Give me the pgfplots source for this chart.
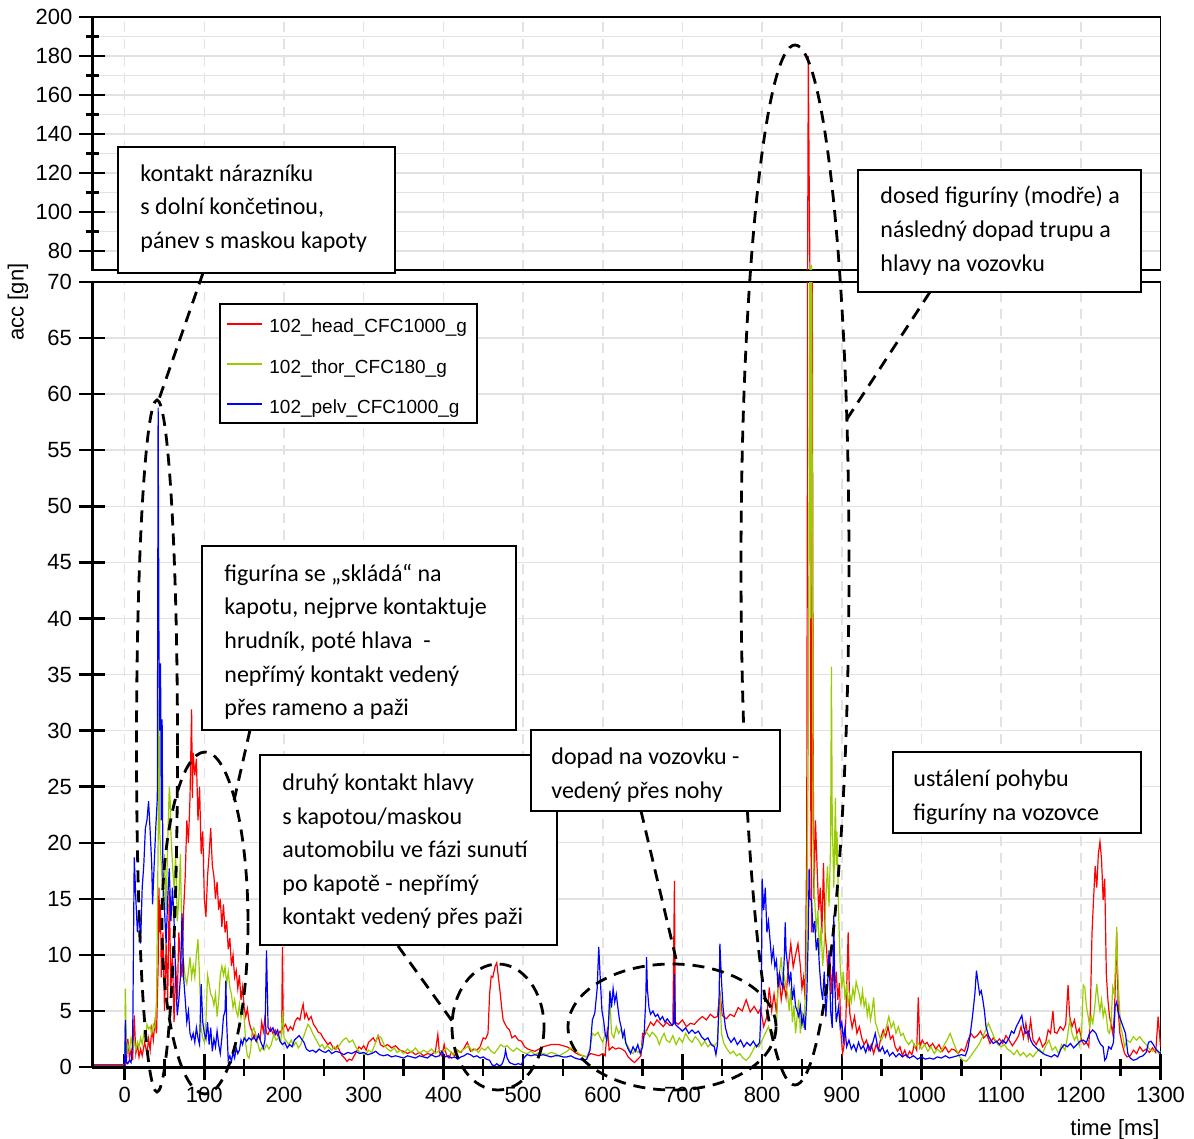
\documentclass[border=0pt]{standalone}
\usepackage{fontspec}
\setmainfont{Liberation Sans}
\newfontfamily\calibri{Carlito}
\usepackage{pgfplots}
\usepackage{pgfplotstable}
\pgfplotsset{compat=1.18}
\definecolor{cHead}{RGB}{255,0,0}
\definecolor{cThor}{RGB}{153,204,0}
\definecolor{cPelv}{RGB}{0,0,255}
\definecolor{grd}{RGB}{226,226,226}

% 102_head_CFC1000_g
\pgfplotstableread[row sep=\\]{
t y\\
-41 0.2\\ 0 0.2\\ 2 0.3\\ 4 2.5\\ 6 0.8\\ 8 1.5\\ 10 0.6\\ 12 4.6\\ 14 1.2\\ 16 2.0\\ 18 0.9\\ 20 1.6\\ 22 1.0\\ 25 2.2\\ 28 1.2\\ 30 2.5\\ 32 1.5\\ 34 3.4\\ 36 2.4\\ 38 4.0\\ 40 3.0\\
42 9\\ 43 16\\ 44 12\\ 45 14.5\\ 46 8\\ 48 12\\ 50 5\\ 52 11\\ 54 6\\ 56 15.7\\ 58 7\\ 60 10\\ 62 4\\ 64 9\\ 66 6\\ 68 12\\ 70 9.4\\ 72 8\\ 74 14\\ 76 17\\ 78 22\\ 80 20\\ 82 24\\ 84 31.9\\ 85 24\\ 86 28\\ 88 26\\ 90 27.5\\ 92 22\\ 94 25\\ 96 19\\ 98 21\\ 100 15\\ 102 13.4\\ 104 17\\ 106 19\\ 108 21.3\\ 110 18\\ 112 17\\ 114 15\\ 116 16.5\\ 118 14\\ 120 15\\ 122 12.5\\ 124 14.5\\ 126 12\\ 128 13\\ 130 10.5\\ 132 11.5\\ 134 9\\ 136 10\\ 138 8\\ 140 8.6\\ 142 7\\ 144 8.2\\ 146 6\\ 148 7.1\\ 150 5.3\\
152 4.5\\ 154 5.2\\ 156 4.1\\ 158 3.5\\ 160 3.2\\ 162 2.6\\ 164 3.0\\ 166 2.3\\ 168 2.8\\ 170 2.5\\ 172 4.0\\ 174 3.2\\ 176 4.4\\ 178 3.0\\ 180 2.9\\ 183 3.5\\ 186 3.0\\ 189 3.3\\ 192 2.8\\ 195 3.2\\ 197 2.9\\ 198 10.7\\ 199 3.5\\ 202 3.8\\ 205 3.2\\ 208 3.6\\ 211 3.3\\ 214 4.1\\ 217 4.4\\ 220 4.2\\ 222 5.0\\ 224 5.6\\ 226 4.4\\ 228 4.8\\ 231 4.2\\ 234 4.5\\ 237 3.8\\ 240 3.5\\ 243 3.1\\ 246 3.0\\ 249 2.6\\ 252 2.3\\ 255 2.0\\ 258 2.2\\ 261 1.8\\ 264 1.6\\ 267 1.9\\ 270 1.4\\ 273 1.0\\ 276 0.8\\ 279 0.5\\ 282 0.7\\ 285 0.6\\ 288 1.0\\ 291 1.4\\ 294 1.8\\ 297 1.6\\ 300 1.9\\
303 1.5\\ 306 2.2\\ 309 2.4\\ 312 2.6\\ 315 2.2\\ 318 2.8\\ 321 2.0\\ 325 1.8\\ 330 2.0\\ 335 1.7\\ 340 1.9\\ 345 1.5\\ 350 1.4\\ 355 1.2\\ 360 1.4\\ 365 1.1\\ 370 1.3\\ 375 1.0\\ 380 1.2\\ 385 1.1\\ 390 1.4\\ 393 2.9\\ 395 1.3\\ 398 1.0\\ 401 2.0\\ 404 1.0\\ 407 0.8\\ 410 1.3\\ 414 1.0\\ 418 1.5\\ 422 1.3\\ 426 1.7\\ 430 2.2\\ 434 1.4\\ 438 1.6\\ 442 1.5\\ 446 1.8\\ 450 2.6\\ 453 2.5\\ 456 3.0\\ 458 6.5\\ 460 8.1\\ 462 8.0\\ 465 9.0\\ 467 9.3\\ 469 8.0\\ 471 6.8\\ 473 5.4\\ 475 4.2\\ 477 3.9\\ 480 3.5\\ 483 3.3\\ 486 2.6\\ 490 2.8\\ 494 2.4\\ 498 2.3\\
502 1.8\\ 506 1.6\\ 510 1.5\\ 515 1.4\\ 520 1.6\\ 525 1.8\\ 530 1.9\\ 535 2.0\\ 540 2.0\\ 545 2.0\\ 550 1.9\\ 555 1.8\\ 560 1.6\\ 565 1.3\\ 570 1.1\\ 575 1.0\\ 580 0.9\\ 585 1.2\\ 590 1.1\\ 595 1.0\\ 600 1.2\\ 603 1.0\\ 606 3.6\\ 608 1.5\\ 612 1.8\\ 616 1.6\\ 620 1.7\\ 624 1.6\\ 628 1.4\\ 632 0.9\\ 636 0.6\\ 640 0.4\\ 644 0.7\\ 648 1.0\\ 650 3.0\\ 653 2.9\\ 656 3.4\\ 660 4.0\\ 664 3.7\\ 668 4.2\\ 672 3.9\\ 676 3.6\\ 680 4.0\\ 684 3.7\\ 688 3.8\\ 690 16.6\\ 691 4.0\\ 695 3.8\\ 700 4.2\\ 705 3.6\\ 710 3.9\\ 715 3.8\\ 720 4.2\\ 725 4.5\\ 730 4.2\\ 735 4.7\\ 740 4.4\\ 744 4.5\\ 747 6.8\\ 750 4.6\\ 755 4.3\\ 760 4.7\\ 765 4.5\\ 770 5.3\\ 775 5.0\\ 780 6.0\\ 785 4.9\\ 790 5.4\\ 795 4.8\\ 798 5.2\\
802 3.6\\ 806 4.5\\ 809 7.1\\ 812 5.0\\ 815 6.5\\ 818 4.8\\ 821 8.3\\ 824 6.0\\ 827 7.5\\ 830 6.2\\ 833 9.0\\ 836 11.0\\ 839 8.9\\ 842 10.0\\ 845 11.0\\ 848 9.0\\ 850 7.0\\ 852 8.0\\ 854 6.0\\ 856 20\\ 857 60\\ 858 180\\ 859 120\\ 860 70\\ 861 25\\ 862 12\\ 863 70\\ 864 30\\ 865 15\\ 867 22\\ 869 17.8\\ 871 14\\ 873 16\\ 875 11.9\\ 877 18.2\\ 879 12\\ 881 10.4\\ 883 8\\ 885 10\\ 887 6.5\\ 889 9\\ 891 7\\ 893 8.5\\ 895 6\\ 897 7.5\\ 899 3\\ 901 1.2\\ 903 2.0\\ 905 4.0\\ 908 12\\ 910 4.8\\ 913 3.5\\ 916 4.5\\ 919 3.0\\ 922 3.6\\ 925 2.6\\ 928 2.0\\ 931 2.4\\ 934 1.5\\ 937 2.0\\ 940 1.2\\ 943 2.0\\ 946 1.5\\ 949 2.6\\ 952 3.3\\ 955 2.7\\ 958 3.6\\ 961 2.5\\ 964 2.8\\ 967 1.8\\ 970 1.4\\ 973 1.8\\ 976 1.0\\ 979 1.5\\ 982 0.9\\ 985 1.4\\ 988 1.1\\ 991 2.0\\ 994 1.5\\ 996 6.2\\ 998 1.8\\
1001 2.4\\ 1004 2.0\\ 1007 2.2\\ 1010 1.8\\ 1014 2.1\\ 1018 1.6\\ 1022 2.0\\ 1026 1.4\\ 1030 1.8\\ 1034 1.3\\ 1038 1.6\\ 1042 1.5\\ 1046 1.2\\ 1050 1.6\\ 1054 1.4\\ 1058 2.3\\ 1062 3.0\\ 1066 2.6\\ 1070 2.8\\ 1074 3.2\\ 1078 2.6\\ 1082 2.9\\ 1086 2.1\\ 1090 2.6\\ 1094 2.2\\ 1098 2.5\\ 1102 2.1\\ 1106 2.8\\ 1110 2.4\\ 1114 1.9\\ 1118 2.3\\ 1122 2.8\\ 1125 3.6\\ 1128 2.6\\ 1131 3.9\\ 1134 2.5\\ 1137 4.2\\ 1140 2.4\\ 1144 2.0\\ 1148 2.6\\ 1152 1.8\\ 1156 2.2\\ 1159 3.3\\ 1162 3.0\\ 1165 5.0\\ 1167 3.1\\ 1170 3.0\\ 1174 3.6\\ 1178 3.3\\ 1181 3.8\\ 1184 7.3\\ 1186 4.5\\ 1189 3.6\\ 1192 4.2\\ 1195 3.0\\ 1198 3.4\\
1201 2.4\\ 1204 2.0\\ 1207 2.2\\ 1210 1.8\\ 1212 5.0\\ 1214 11.9\\ 1216 15.0\\ 1218 17.9\\ 1220 16.0\\ 1222 19.0\\ 1224 20.1\\ 1226 18.5\\ 1228 14.9\\ 1230 16.8\\ 1232 8.3\\ 1234 6.0\\ 1236 4.5\\ 1238 3.8\\ 1240 3.0\\ 1242 4.5\\ 1244 9.0\\ 1245 12.0\\ 1247 5.0\\ 1249 3.0\\ 1252 2.0\\ 1255 1.2\\ 1258 0.9\\ 1262 1.0\\ 1266 1.5\\ 1270 1.2\\ 1274 1.8\\ 1278 1.4\\ 1282 1.6\\ 1286 1.3\\ 1290 1.7\\ 1294 1.3\\ 1297 4.5\\ 1300 1.8\\
}\headtab

% 102_thor_CFC180_g
\pgfplotstableread[row sep=\\]{
t y\\
-41 0.1\\ 0 0.1\\ 1 7.0\\ 2 1.0\\ 4 2.0\\ 6 1.5\\ 8 2.6\\ 10 1.8\\ 12 2.4\\ 14 1.5\\ 16 2.2\\ 18 1.8\\ 20 2.6\\ 22 2.0\\ 24 3.0\\ 26 2.4\\ 28 3.8\\ 30 3.4\\ 32 3.6\\ 34 3.0\\ 36 3.8\\ 38 3.5\\ 40 6\\ 42 20\\ 43 32.7\\ 44 21\\ 46 18\\ 48 15\\ 50 19\\ 52 14\\ 54 20\\ 56 25\\ 57 24\\ 58 21\\ 60 18\\ 62 16\\ 64 19\\ 66 13\\ 68 15\\ 70 19\\ 72 10\\ 74 9.4\\ 76 8\\ 78 7.4\\ 80 8.5\\ 82 9.8\\ 84 8\\ 86 9\\ 88 8\\ 90 10\\ 92 11.4\\ 94 8\\ 96 3.4\\ 98 2.6\\ 100 2.2\\
102 4\\ 104 8.2\\ 106 7.4\\ 108 6.5\\ 110 6.2\\ 112 5.5\\ 114 6.5\\ 116 4.5\\ 118 6\\ 120 8.2\\ 122 9.0\\ 124 8.2\\ 126 8.9\\ 128 7.4\\ 130 8.5\\ 132 7.1\\ 134 6.5\\ 136 5.3\\ 138 6.0\\ 140 5.0\\ 142 4.5\\ 144 5.6\\ 146 4.4\\ 148 5.2\\ 150 4.4\\ 152 2.0\\ 154 1.0\\ 156 0.8\\ 158 1.5\\ 160 3.2\\ 162 3.5\\ 164 3.0\\ 166 2.5\\ 168 1.8\\ 170 1.4\\ 172 1.7\\ 175 1.5\\ 178 2.0\\ 181 1.6\\ 184 2.0\\ 187 2.9\\ 190 2.4\\ 193 2.6\\ 196 2.2\\ 198 5.0\\ 200 2.6\\
203 2.3\\ 206 2.0\\ 209 2.4\\ 212 1.9\\ 215 2.2\\ 218 1.7\\ 221 2.0\\ 224 2.6\\ 227 3.2\\ 230 3.8\\ 233 3.5\\ 236 3.0\\ 239 2.6\\ 242 2.2\\ 245 1.8\\ 248 2.0\\ 251 1.6\\ 254 1.9\\ 257 1.7\\ 260 1.5\\ 263 1.8\\ 266 1.6\\ 270 2.0\\ 274 2.4\\ 278 2.6\\ 282 2.2\\ 286 2.4\\ 290 1.8\\ 294 1.4\\ 298 1.2\\ 302 1.1\\ 306 1.5\\ 310 1.3\\ 314 2.0\\ 318 2.8\\ 322 2.6\\ 326 1.9\\ 330 1.6\\ 334 1.4\\ 338 1.7\\ 342 1.3\\ 346 1.5\\ 350 1.2\\ 355 1.6\\ 360 1.3\\ 365 1.7\\ 370 1.2\\ 375 1.5\\ 380 1.3\\ 385 1.6\\ 390 1.2\\ 395 1.5\\ 400 1.3\\
404 1.7\\ 408 1.4\\ 412 1.1\\ 416 1.6\\ 420 1.3\\ 424 1.5\\ 428 1.7\\ 432 1.9\\ 436 1.4\\ 440 1.6\\ 444 1.3\\ 448 1.7\\ 452 1.5\\ 456 1.8\\ 460 1.4\\ 464 1.2\\ 468 1.6\\ 472 2.0\\ 476 1.8\\ 480 1.9\\ 484 1.6\\ 488 1.4\\ 492 1.7\\ 496 1.5\\ 500 1.3\\ 505 1.2\\ 510 1.4\\ 515 1.1\\ 520 1.3\\ 525 1.2\\ 530 1.1\\ 535 1.3\\ 540 1.2\\ 545 1.0\\ 550 1.2\\ 555 1.4\\ 560 1.7\\ 565 1.5\\ 570 1.2\\ 575 1.0\\ 580 0.9\\ 584 1.6\\ 587 3.0\\ 590 2.8\\ 594 3.1\\ 597 2.6\\ 600 2.2\\
603 3.0\\ 606 2.5\\ 609 6.2\\ 611 3.0\\ 614 2.6\\ 617 3.6\\ 620 3.0\\ 623 3.4\\ 626 2.7\\ 629 2.2\\ 632 1.8\\ 635 1.4\\ 638 1.2\\ 641 1.6\\ 644 1.3\\ 647 1.5\\ 650 2.0\\ 653 3.3\\ 656 3.0\\ 659 2.7\\ 662 3.1\\ 665 2.9\\ 668 2.6\\ 671 2.0\\ 674 2.6\\ 677 3.0\\ 680 2.4\\ 684 2.2\\ 688 2.8\\ 692 2.0\\ 696 2.6\\ 700 2.2\\ 704 3.0\\ 708 2.5\\ 712 2.2\\ 716 2.7\\ 720 2.4\\ 724 1.9\\ 728 2.3\\ 732 1.8\\ 736 2.1\\ 740 1.9\\ 744 2.2\\ 746 5.0\\ 747 6.8\\ 749 3.0\\ 752 2.1\\ 756 1.6\\ 760 1.2\\ 764 1.4\\ 768 1.0\\ 772 1.2\\ 776 0.8\\ 780 0.6\\ 784 0.9\\ 788 1.4\\ 792 2.0\\ 796 1.8\\ 800 2.4\\
804 3.0\\ 808 3.6\\ 812 2.7\\ 816 3.2\\ 818 3.6\\ 820 7.1\\ 822 8.5\\ 824 9.8\\ 826 7.5\\ 828 8.0\\ 830 7.1\\ 832 6.5\\ 834 5.0\\ 836 7.0\\ 838 4.0\\ 840 5.5\\ 842 3.0\\ 844 4.5\\ 846 6.0\\ 848 3.0\\ 850 5.0\\ 852 3.5\\ 854 6.0\\ 856 10\\ 858 30\\ 860 72\\ 861 40\\ 862 73\\ 863 50\\ 864 20\\ 866 15\\ 868 12\\ 870 14\\ 872 10\\ 874 12.5\\ 876 9\\ 878 11\\ 880 15\\ 882 17.9\\ 884 14.3\\ 886 20\\ 887 35.7\\ 888 22\\ 890 16\\ 892 24\\ 893 18\\ 894 21\\ 896 13.8\\ 898 9\\ 900 7\\
902 8.5\\ 904 6\\ 906 7.4\\ 908 5.4\\ 910 6.5\\ 912 5.8\\ 914 7.0\\ 916 6.2\\ 918 7.6\\ 920 7.0\\ 922 6.5\\ 924 5.6\\ 926 6.8\\ 928 5.4\\ 930 6.0\\ 932 4.6\\ 934 5.5\\ 936 4.2\\ 938 5.0\\ 940 6.2\\ 942 4.0\\ 944 3.6\\ 946 3.0\\ 948 2.6\\ 950 2.4\\ 953 3.0\\ 956 3.6\\ 959 4.5\\ 962 3.5\\ 965 4.0\\ 968 3.0\\ 971 3.6\\ 974 2.8\\ 977 3.0\\ 980 2.4\\ 984 2.0\\ 988 2.4\\ 992 1.8\\ 996 2.1\\ 1000 1.6\\
1004 2.0\\ 1008 1.4\\ 1012 1.8\\ 1016 1.2\\ 1020 1.6\\ 1024 1.3\\ 1028 1.9\\ 1032 2.4\\ 1036 3.0\\ 1040 2.2\\ 1044 1.5\\ 1048 0.9\\ 1052 0.6\\ 1056 0.5\\ 1060 0.8\\ 1064 1.2\\ 1068 1.6\\ 1072 2.0\\ 1076 2.6\\ 1080 3.2\\ 1084 3.9\\ 1088 3.2\\ 1092 2.5\\ 1096 2.0\\ 1100 1.8\\ 1104 2.0\\ 1108 1.6\\ 1112 1.4\\ 1116 1.1\\ 1120 1.5\\ 1124 1.0\\ 1128 1.3\\ 1132 0.9\\ 1136 1.2\\ 1140 0.9\\ 1144 1.3\\ 1148 1.6\\ 1152 1.2\\ 1156 1.9\\ 1160 2.4\\ 1164 1.5\\ 1168 1.8\\ 1172 1.2\\ 1176 2.0\\ 1180 1.5\\ 1183 2.6\\ 1186 4.2\\ 1189 3.0\\ 1192 2.4\\ 1195 2.8\\ 1198 1.9\\
1201 3.0\\ 1203 7.3\\ 1205 7.1\\ 1207 5.4\\ 1209 4.6\\ 1211 3.6\\ 1213 4.5\\ 1215 3.9\\ 1217 5.0\\ 1220 7.4\\ 1222 6.0\\ 1224 5.0\\ 1226 6.0\\ 1228 4.5\\ 1230 5.2\\ 1232 4.5\\ 1234 3.2\\ 1236 3.0\\ 1238 4.0\\ 1240 7.1\\ 1242 6.5\\ 1244 10\\ 1245 12.5\\ 1246 9\\ 1248 6.0\\ 1250 3.5\\ 1252 3.0\\ 1255 1.8\\ 1258 2.4\\ 1262 2.2\\ 1266 2.7\\ 1270 2.4\\ 1274 2.7\\ 1278 2.3\\ 1282 2.0\\ 1286 1.6\\ 1290 1.4\\ 1294 1.6\\ 1298 1.2\\ 1300 1.4\\
}\thortab

% 102_pelv_CFC1000_g
\pgfplotstableread[row sep=\\]{
t y\\
-41 0.1\\ 0 0.1\\ 1 4.2\\ 2 0.5\\ 4 0.3\\ 6 0.6\\ 8 0.4\\ 10 2\\ 12 18.7\\ 14 15\\ 16 12\\ 18 14\\ 20 11\\ 22 16\\ 24 18\\ 26 21.3\\ 28 22\\ 30 23.7\\ 32 21\\ 34 18\\ 35 14.5\\ 37 18\\ 39 21.3\\ 41 24\\ 42 58.8\\ 43 38\\ 44 30\\ 45 36\\ 46 22\\ 47 31\\ 48 17\\ 50 14\\ 52 11\\ 54 15\\ 56 17.7\\ 58 13\\ 60 16\\ 62 13\\ 64 8\\ 66 4.6\\ 68 6\\ 70 8\\ 72 13.7\\ 74 8\\ 76 6\\ 78 4\\ 80 5\\ 82 3\\ 84 2.5\\ 86 3.0\\ 88 2.2\\ 90 3.5\\ 92 2.6\\ 94 2.0\\ 96 7.4\\ 98 4\\ 100 3.0\\
102 2.5\\ 104 4.0\\ 106 2.0\\ 108 3.5\\ 110 1.4\\ 112 2.5\\ 114 1.8\\ 116 3.2\\ 118 2.0\\ 120 1.2\\ 122 2.6\\ 124 4.5\\ 126 5.0\\ 127 7.7\\ 128 4.0\\ 130 0.6\\ 132 1.0\\ 134 0.5\\ 136 1.3\\ 138 0.8\\ 140 1.7\\ 142 1.2\\ 144 1.5\\ 146 2.4\\ 148 2.0\\ 150 2.6\\ 153 2.3\\ 156 2.6\\ 159 2.4\\ 162 2.7\\ 165 2.3\\ 168 2.9\\ 171 2.2\\ 174 1.7\\ 176 2.4\\ 178 10.4\\ 180 3.5\\ 183 3.2\\ 186 3.5\\ 189 2.9\\ 192 3.3\\ 195 2.3\\ 198 2.0\\
201 2.2\\ 204 1.7\\ 207 2.0\\ 210 1.8\\ 213 2.4\\ 216 2.6\\ 219 2.8\\ 222 2.5\\ 225 2.2\\ 228 1.6\\ 232 1.4\\ 236 1.5\\ 240 1.3\\ 244 1.6\\ 248 1.4\\ 252 1.3\\ 256 1.5\\ 260 1.2\\ 265 1.4\\ 270 1.3\\ 275 1.1\\ 280 1.3\\ 285 1.2\\ 290 1.4\\ 295 1.2\\ 300 1.3\\ 305 1.1\\ 310 1.2\\ 315 1.4\\ 320 1.1\\ 325 1.0\\ 330 1.1\\ 335 0.9\\ 340 1.0\\ 345 0.9\\ 350 0.8\\ 355 1.0\\ 360 0.9\\ 365 0.8\\ 370 1.0\\ 375 0.9\\ 380 0.8\\ 385 1.1\\ 390 0.9\\ 395 1.0\\ 398 1.4\\
402 0.9\\ 406 1.0\\ 410 0.8\\ 414 0.9\\ 418 0.7\\ 422 0.9\\ 426 1.0\\ 430 1.2\\ 434 1.1\\ 438 0.9\\ 442 1.0\\ 446 0.8\\ 450 0.9\\ 454 0.7\\ 458 0.6\\ 461 0.2\\ 464 0.1\\ 467 0.3\\ 470 0.1\\ 473 0.2\\ 475 0.5\\ 477 1.0\\ 478 1.5\\ 480 0.8\\ 483 0.4\\ 486 0.3\\ 490 0.2\\ 494 0.3\\ 498 0.2\\ 501 0.8\\ 505 1.1\\ 510 1.0\\ 515 1.1\\ 520 1.0\\ 525 1.1\\ 530 1.0\\ 535 0.9\\ 540 1.0\\ 545 1.0\\ 550 0.9\\ 555 0.9\\ 560 1.0\\ 565 0.8\\ 570 0.7\\ 575 0.6\\ 580 0.7\\
584 1.5\\ 587 4.2\\ 590 4.8\\ 593 7.0\\ 595 10.7\\ 597 7.7\\ 599 5.0\\ 601 4.2\\ 603 3.0\\ 605 2.4\\ 607 3.5\\ 609 6.8\\ 611 5.3\\ 613 7.0\\ 615 5.8\\ 617 6.5\\ 619 5.3\\ 621 4.2\\ 623 3.6\\ 625 2.7\\ 627 3.2\\ 629 2.1\\ 632 1.6\\ 635 1.2\\ 638 1.8\\ 641 1.4\\ 644 2.0\\ 647 1.2\\ 650 1.8\\ 652 3.0\\ 654 6.0\\ 655 9.8\\ 656 7.0\\ 658 5.3\\ 660 4.7\\ 663 5.0\\ 666 4.5\\ 669 4.7\\ 672 4.2\\ 675 4.5\\ 678 4.0\\ 681 4.3\\ 684 4.0\\ 687 3.7\\ 689 3.9\\ 690 8.3\\ 691 3.8\\ 694 3.6\\ 697 3.4\\ 700 3.2\\
704 3.5\\ 708 3.0\\ 712 3.3\\ 716 3.0\\ 720 3.2\\ 724 2.7\\ 728 2.4\\ 732 2.6\\ 736 2.0\\ 740 1.8\\ 742 1.1\\ 744 2.0\\ 746 6.0\\ 747 11.0\\ 749 7.7\\ 751 5.3\\ 754 3.5\\ 757 2.7\\ 761 2.2\\ 765 2.6\\ 769 2.0\\ 773 2.4\\ 777 1.8\\ 781 2.2\\ 785 1.9\\ 789 2.3\\ 793 1.8\\ 797 2.2\\ 799 6\\ 800 16.8\\ 802 14\\ 804 16\\ 806 12\\ 808 13\\ 810 11.3\\ 812 9.5\\ 814 10.5\\ 816 8.9\\ 818 9.5\\ 820 7.1\\ 822 8.3\\ 824 7.5\\ 826 7.1\\ 828 10\\ 829 12.9\\ 830 10.4\\ 832 9\\ 834 7.5\\ 836 8.5\\ 838 6.0\\ 840 7.0\\ 842 5.4\\ 844 5.0\\ 846 4.5\\ 848 5.4\\ 850 3.8\\ 852 4.5\\ 854 3.3\\ 856 6\\ 858 12\\ 859 17.7\\ 860 15\\ 862 14.9\\ 864 12\\ 866 13\\ 868 10.4\\ 870 11.5\\ 872 8.9\\ 874 7\\ 876 6\\ 878 8.5\\ 880 4.5\\ 882 7\\ 884 10.4\\ 886 5\\ 888 3.5\\ 890 13.5\\ 891 8\\ 893 4\\ 896 5.4\\ 898 3.5\\ 900 4\\
902 2.4\\ 904 3.5\\ 906 1.8\\ 909 2.4\\ 912 1.6\\ 915 2.0\\ 918 1.4\\ 921 2.2\\ 924 1.6\\ 927 1.9\\ 930 1.3\\ 933 2.0\\ 936 1.5\\ 939 2.2\\ 942 3.0\\ 945 1.8\\ 948 1.4\\ 951 1.8\\ 954 1.2\\ 957 1.5\\ 960 1.0\\ 964 1.3\\ 968 0.9\\ 972 1.2\\ 976 0.9\\ 980 1.1\\ 985 0.8\\ 990 1.0\\ 995 0.7\\ 1000 0.9\\ 1005 0.7\\ 1010 0.8\\ 1015 0.7\\ 1020 0.9\\ 1025 0.8\\ 1030 1.0\\ 1035 0.8\\ 1040 0.9\\ 1045 1.0\\ 1050 1.1\\ 1055 1.0\\ 1058 1.6\\ 1061 2.8\\ 1064 4.5\\ 1067 6.5\\ 1069 8.6\\ 1071 7.5\\ 1073 6.5\\ 1075 6.8\\ 1077 6.0\\ 1079 5.0\\ 1081 3.6\\ 1084 2.8\\ 1087 2.4\\ 1090 2.1\\ 1094 2.3\\ 1098 2.0\\
1102 2.4\\ 1106 2.1\\ 1110 2.6\\ 1113 3.2\\ 1116 3.0\\ 1119 3.6\\ 1122 4.0\\ 1126 4.6\\ 1128 3.6\\ 1131 3.0\\ 1134 3.2\\ 1137 2.4\\ 1140 2.0\\ 1143 1.8\\ 1147 1.5\\ 1151 1.3\\ 1155 1.1\\ 1159 1.0\\ 1163 0.9\\ 1167 1.1\\ 1171 0.9\\ 1175 1.6\\ 1179 2.0\\ 1183 1.8\\ 1187 2.1\\ 1191 1.7\\ 1195 2.0\\ 1199 2.3\\ 1203 2.4\\ 1207 2.2\\ 1211 3.0\\ 1215 3.3\\ 1219 3.0\\ 1222 2.4\\ 1225 2.0\\ 1228 1.8\\ 1230 0.6\\ 1232 0.8\\ 1235 1.8\\ 1238 1.6\\ 1241 2.2\\ 1243 5.4\\ 1245 5.8\\ 1247 4.8\\ 1250 4.2\\ 1253 3.6\\ 1256 3.0\\ 1259 1.2\\ 1262 0.8\\ 1266 0.6\\ 1270 0.7\\ 1274 0.9\\ 1278 1.0\\ 1282 1.3\\ 1285 2.2\\ 1288 2.3\\ 1291 2.0\\ 1294 1.6\\ 1297 1.4\\ 1300 1.2\\
}\pelvtab

\pgfplotsset{
  crashbase/.style={
    scale only axis, width=534.25pt,
    xmin=-41, xmax=1300,
    clip mode=individual,
    axis line style={line width=0.75pt},
    tick align=center, tick pos=left,
    every tick/.style={black, line width=1.2pt},
    /pgf/number format/assume math mode=true,
    /pgf/number format/1000 sep={},
    tick label style={font=\fontsize{11}{13}\selectfont},
    xtick={0,100,...,1300},
    xmajorgrids, ymajorgrids,
    grid style={color=grd, line width=0.75pt},
    major x grid style={color=grd, line width=0.75pt, dash pattern=on 5pt off 3.5pt},
  },
  sig/.style={line width=0.6pt, no markers},
}

\newcommand\bx[3]{\node[font=\calibri\fontsize{12}{14}\selectfont, anchor=base west, inner sep=0pt] at (#1,#2) {#3};}

\begin{document}
\begin{tikzpicture}
\useasboundingbox (0,0) rectangle (597pt,-569.5pt);

% lower panel 0..70
\begin{axis}[crashbase,
  at={(46pt,-533.5pt)}, anchor=south west, height=392.5pt,
  ymin=0, ymax=70, ytick={0,5,...,70},
  minor xtick={50,150,...,1250},
  major tick length=13pt, minor tick length=8.5pt,
]
\addplot[sig, cHead] table {\headtab};
\addplot[sig, cThor] table {\thortab};
\addplot[sig, cPelv] table {\pelvtab};
\draw[line width=1.5pt] (rel axis cs:0,0) -- (rel axis cs:0,1);
\draw[line width=1.5pt] (rel axis cs:0,0) -- (rel axis cs:1,0);
\end{axis}

% upper panel 70..200
\begin{axis}[crashbase,
  at={(46pt,-135pt)}, anchor=south west, height=126.5pt,
  ymin=70.3, ymax=200, ytick={80,100,...,200},
  minor ytick={90,110,...,190}, yminorgrids,
  minor grid style={color=grd, line width=0.75pt},
  xticklabels={},
  every major x tick/.append style={draw=none},
  major tick length=12.5pt, minor tick length=6.5pt,
]
\addplot[sig, cHead] table {\headtab};
\addplot[sig, cThor] table {\thortab};
\addplot[sig, cPelv] table {\pelvtab};
\draw[line width=1.5pt] (rel axis cs:0,0) -- (rel axis cs:0,1);
\draw[line width=1pt] (rel axis cs:0,1) -- (rel axis cs:1,1);
\end{axis}

\begin{scope}[x=0.5pt, y=-0.5pt]
\tikzset{dsh/.style={line width=1.4pt, dash pattern=on 6pt off 4pt}}
% axis titles
\node[rotate=90, font=\fontsize{11}{13}\selectfont] at (18,302) {acc [gn]};
\node[anchor=base east, font=\fontsize{11}{13}\selectfont, inner sep=0pt] at (1160,1135) {time [ms]};

% legend
\draw[line width=0.7pt, fill=white] (220,304) rectangle (477,423);
\draw[cHead, line width=0.6pt] (227,324) -- (262,324);
\draw[cThor, line width=0.6pt] (227,364) -- (262,364);
\draw[cPelv, line width=0.6pt] (227,404) -- (262,404);
\node[anchor=base west, inner sep=0pt, font=\fontsize{9.5}{11}\selectfont] at (269,333) {102\_head\_CFC1000\_g};
\node[anchor=base west, inner sep=0pt, font=\fontsize{9.5}{11}\selectfont] at (269,373) {102\_thor\_CFC180\_g};
\node[anchor=base west, inner sep=0pt, font=\fontsize{9.5}{11}\selectfont] at (269,413) {102\_pelv\_CFC1000\_g};

% dashed ellipses
\draw[dsh] (157,746) ellipse [x radius=20.5, y radius=346];
\draw[dsh] (205,923) ellipse [x radius=43, y radius=171];
\draw[dsh] (498,1027) ellipse [x radius=46, y radius=63];
\draw[dsh] (672,1027) ellipse [x radius=104, y radius=63];
\draw[dsh] (795,565) ellipse [x radius=54, y radius=520];
% connectors
\draw[dsh] (203,273) -- (158,402);
\draw[dsh] (250,730) -- (233,805);
\draw[dsh] (398,946) -- (455,1025);
\draw[dsh] (641,811) -- (677,963);
\draw[dsh] (930,292) -- (845,422);

% callout boxes
\draw[line width=1.2pt, fill=white] (118,147) rectangle (395,273);
\bx{140}{182}{kontakt nárazníku}
\bx{140}{215}{s dolní končetinou,}
\bx{140}{249}{pánev s maskou kapoty}

\draw[line width=1.2pt, fill=white] (858,170) rectangle (1141,292);
\bx{880}{204}{dosed figuríny (modře) a}
\bx{880}{238}{následný dopad trupu a}
\bx{880}{271}{hlavy na vozovku}

\draw[line width=1.2pt, fill=white] (202,546) rectangle (516,730);
\bx{224}{581}{figurína se „skládá“ na}
\bx{224}{614}{kapotu, nejprve kontaktuje}
\bx{224}{648}{hrudník, poté hlava\ \ -}
\bx{224}{682}{nepřímý kontakt vedený}
\bx{224}{715}{přes rameno a paži}

\draw[line width=1.2pt, fill=white] (260,755) rectangle (557,945);
\bx{282}{790}{druhý kontakt hlavy}
\bx{282}{824}{s kapotou/maskou}
\bx{282}{857}{automobilu ve fázi sunutí}
\bx{282}{891}{po kapotě - nepřímý}
\bx{282}{924}{kontakt vedený přes paži}

\draw[line width=1.2pt, fill=white] (531,730) rectangle (780,811);
\bx{551}{764}{dopad na vozovku -}
\bx{551}{798}{vedený přes nohy}

\draw[line width=1.2pt, fill=white] (893,752) rectangle (1141,833);
\bx{913}{786}{ustálení pohybu}
\bx{913}{820}{figuríny na vozovce}
\end{scope}
\end{tikzpicture}
\end{document}
